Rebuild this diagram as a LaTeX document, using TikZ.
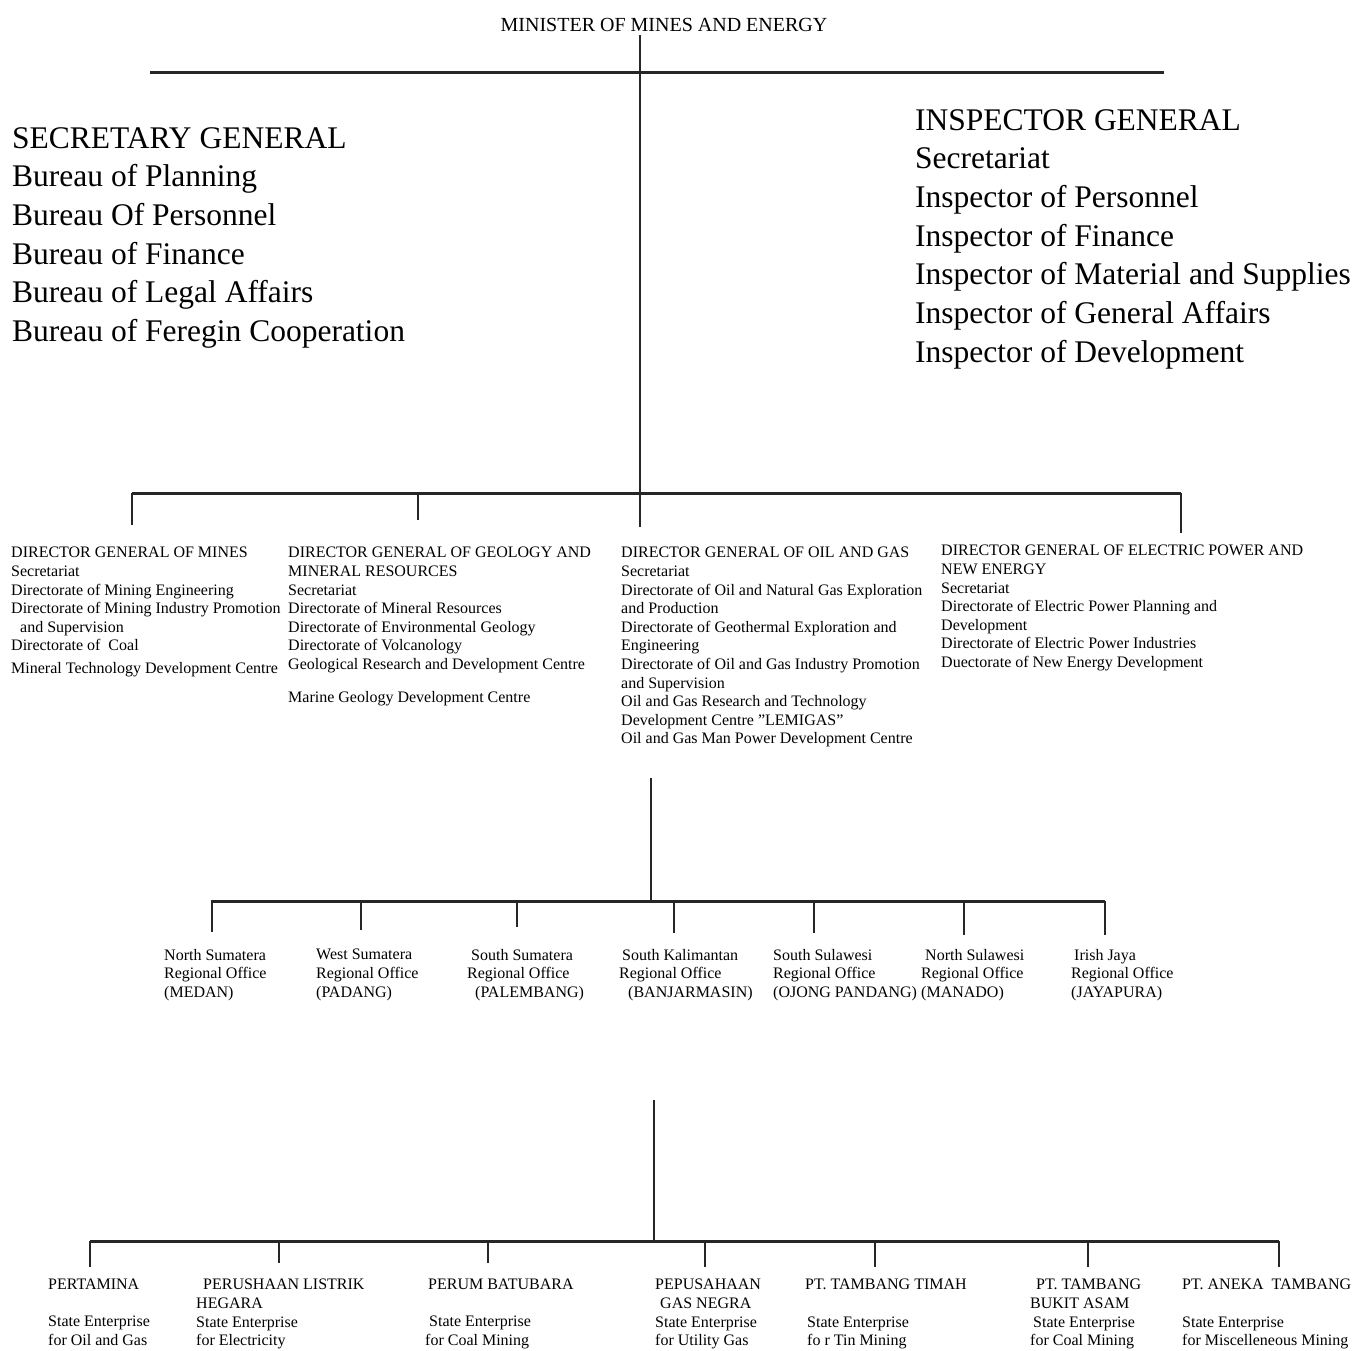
\documentclass[tikz,border=0pt]{standalone}
\usepackage{fontspec}
\setmainfont{Liberation Serif}
\usepackage{tikz}

\tikzset{
  bar/.style={line width=3pt, draw=black!85},
  drop/.style={line width=2pt, draw=black!85},
  bigtext/.style={anchor=north west, align=left, inner sep=0pt, font=\fontsize{31.5}{38.7}\selectfont},
  smalltext/.style={anchor=north west, align=left, inner sep=0pt, font=\fontsize{16}{18.6}\selectfont},
}

\begin{document}
\begin{tikzpicture}[x=1pt, y=-1pt]
            \useasboundingbox (0,0) rectangle (1360,1350);

            % minister and staff
            \node[inner sep=0pt, font=\fontsize{20}{24}\selectfont] (minister) at (664,25) {MINISTER OF MINES AND ENERGY};
            \node[bigtext] (secgen) at (12,127) {SECRETARY GENERAL\\Bureau of Planning\\Bureau Of Personnel\\Bureau of Finance\\Bureau of Legal Affairs\\Bureau of Feregin Cooperation};
            \node[bigtext] (inspgen) at (915,109) {INSPECTOR GENERAL\\Secretariat\\Inspector of Personnel\\Inspector of Finance\\Inspector of Material and Supplies\\Inspector of General Affairs\\Inspector of Development};

            % directors general
            \node[smalltext] (dgmines) at (11,547) {DIRECTOR GENERAL OF MINES\\Secretariat\\Directorate of Mining Engineering\\Directorate of Mining Industry Promotion\\\hspace*{9pt}and Supervision\\Directorate of\ \ Coal\\[4pt]Mineral Technology Development Centre};
            \node[smalltext] (dggeology) at (288,547) {DIRECTOR GENERAL OF GEOLOGY AND\\MINERAL RESOURCES\\Secretariat\\Directorate of Mineral Resources\\Directorate of Environmental Geology\\Directorate of Volcanology\\Geological Research and Development Centre\\[14pt]Marine Geology Development Centre};
            \node[smalltext] (dgoil) at (621,547) {DIRECTOR GENERAL OF OIL AND GAS\\Secretariat\\Directorate of Oil and Natural Gas Exploration\\and Production\\Directorate of Geothermal Exploration and\\Engineering\\Directorate of Oil and Gas Industry Promotion\\and Supervision\\Oil and Gas Research and Technology\\Development Centre "LEMIGAS"\\Oil and Gas Man Power Development Centre};
            \node[smalltext] (dgpower) at (941,545) {DIRECTOR GENERAL OF ELECTRIC POWER AND\\NEW ENERGY\\Secretariat\\Directorate of Electric Power Planning and\\Development\\Directorate of Electric Power Industries\\Duectorate of New Energy Development};

            % regional offices
            \node[smalltext] (rmedan) at (164,949) {North Sumatera\\Regional Office\\(MEDAN)};
            \node[smalltext] (rpadang) at (316,949) {West Sumatera\\Regional Office\\(PADANG)};
            \node[smalltext] (rpalembang) at (467,949) {\hspace*{4pt}South Sumatera\\Regional Office\\\hspace*{8pt}(PALEMBANG)};
            \node[smalltext] (rbanjar) at (619,949) {\hspace*{3pt}South Kalimantan\\Regional Office\\\hspace*{9pt}(BANJARMASIN)};
            \node[smalltext] (rujung) at (773,949) {South Sulawesi\\Regional Office\\(OJONG PANDANG)};
            \node[smalltext] (rmanado) at (921,949) {\hspace*{4pt}North Sulawesi\\Regional Office\\(MANADO)};
            \node[smalltext] (rjaya) at (1071,949) {\hspace*{3pt}Irish Jaya\\Regional Office\\(JAYAPURA)};

            % state enterprises
            \node[smalltext] (pertamina) at (48,1279) {PERTAMINA\\[18.6pt]State Enterprise\\for Oil and Gas};
            \node[smalltext] (pln) at (196,1279) {\hspace*{7pt}PERUSHAAN LISTRIK\\HEGARA\\State Enterprise\\for Electricity};
            \node[smalltext] (batubara) at (425,1279) {\hspace*{3pt}PERUM BATUBARA\\[18.6pt]\hspace*{4pt}State Enterprise\\for Coal Mining};
            \node[smalltext] (pgn) at (655,1279) {PEPUSAHAAN\\\hspace*{5pt}GAS NEGRA\\State Enterprise\\for Utility Gas};
            \node[smalltext] (timah) at (805,1279) {PT. TAMBANG TIMAH\\[18.6pt]\hspace*{2pt}State Enterprise\\\hspace*{2pt}fo r Tin Mining};
            \node[smalltext] (bukit) at (1030,1279) {\hspace*{6pt}PT. TAMBANG\\BUKIT ASAM\\\hspace*{3pt}State Enterprise\\for Coal Mining};
            \node[smalltext] (aneka) at (1182,1279) {PT. ANEKA\ \ TAMBANG\\[18.6pt]State Enterprise\\for Miscelleneous Mining};

            % junction points
            \coordinate (m1) at (640,493);
            \coordinate (t0) at (150,72);
            \coordinate (t1) at (1164,72);
            \coordinate (h0) at (132,493);
            \coordinate (h1) at (418,493);
            \coordinate (h2) at (1181,493);
            \coordinate (r0) at (651,778);
            \coordinate (r1) at (651,901);
            \coordinate (ra) at (211,901);
            \coordinate (rb) at (1105,901);
            \coordinate (e0) at (654,1100);
            \coordinate (e1) at (654,1241);
            \coordinate (ea) at (90,1241);
            \coordinate (eb) at (1279,1241);

            % upper tree
            \draw[bar] (t0) -- (t1);
            \draw[bar] (h0) -- (h2);
            \draw[drop, shorten <=3pt, shorten >=20pt] (minister.south -| m1) -- (m1 |- dgoil.north);
            \draw[drop, shorten >=22pt] (h0) -- (h0 |- dgmines.north);
            \draw[drop, shorten >=27pt] (h1) -- (h1 |- dggeology.north);
            \draw[drop, shorten >=12pt] (h2) -- (h2 |- dgpower.north);

            % regional offices
            \draw[drop] (r0) -- (r1);
            \draw[bar] (ra) -- (rb);
            \draw[drop, shorten >=17pt] (212,901) -- (212,901 |- rmedan.north);
            \draw[drop, shorten >=19pt] (361,901) -- (361,901 |- rpadang.north);
            \draw[drop, shorten >=22pt] (517,901) -- (517,901 |- rpalembang.north);
            \draw[drop, shorten >=16pt] (674,901) -- (674,901 |- rbanjar.north);
            \draw[drop, shorten >=16pt] (814,901) -- (814,901 |- rujung.north);
            \draw[drop, shorten >=14pt] (964,901) -- (964,901 |- rmanado.north);
            \draw[drop, shorten >=14pt] (rb) -- (rb |- rjaya.north);

            % state enterprises
            \draw[drop] (e0) -- (e1);
            \draw[bar] (ea) -- (eb);
            \draw[drop, shorten >=12pt] (ea) -- (ea |- pertamina.north);
            \draw[drop, shorten >=16pt] (279,1241) -- (279,1241 |- pln.north);
            \draw[drop, shorten >=16pt] (488,1241) -- (488,1241 |- batubara.north);
            \draw[drop, shorten >=12pt] (705,1241) -- (705,1241 |- pgn.north);
            \draw[drop, shorten >=12pt] (875,1241) -- (875,1241 |- timah.north);
            \draw[drop, shorten >=12pt] (1088,1241) -- (1088,1241 |- bukit.north);
            \draw[drop, shorten >=12pt] (eb) -- (eb |- aneka.north);
        \end{tikzpicture}
\end{document}
